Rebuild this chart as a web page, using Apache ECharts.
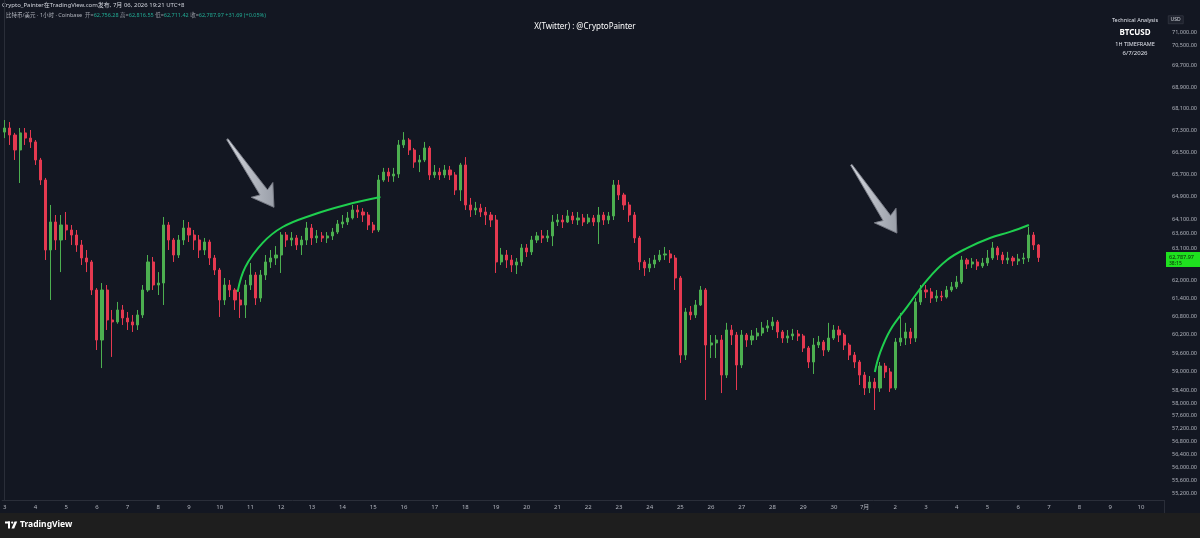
<!DOCTYPE html>
<html>
<head>
<meta charset="utf-8">
<style>
  html, body { margin: 0; padding: 0; background: #131722; }
  #chart { width: 1200px; height: 538px; }
</style>
<script src="https://cdn.jsdelivr.net/npm/echarts@6/dist/echarts.min.js"></script>
</head>
<body>
<div id="chart"></div>
<script>
// BTCUSD, 按 4 小时合并的 K 线, 从 6月3日 00:00 开始
const opens = [
  67230, 67380, 67123, 66577, 67200, 67010, 66870, 66215, 65497, 63045,
  64015, 63389, 63910, 63736, 63562, 63217, 62770, 62635, 61685, 60026,
  61685, 60685, 60620, 61017, 60750, 60620, 60520, 60851, 61685, 62635,
  61853, 61920, 63910, 63389, 62873, 63389, 63805, 63562, 63389, 63045,
  63320, 62770, 62361, 61350, 61853, 61685, 61350, 61183, 61853, 62191,
  61415, 62191, 62635, 62770, 62873, 63562, 63389, 63460, 63217, 63389,
  63805, 63460, 63530, 63460, 63530, 63665, 63945, 64015, 64155, 64435,
  64365, 64259, 63910, 63736, 65497, 65780, 65640, 65710, 66759, 66941,
  66577, 66140, 66215, 66650, 65676, 65780, 65676, 65855, 65676, 65141,
  66035, 64611, 64435, 64500, 64365, 64259, 64084, 62635, 62873, 62702,
  62531, 62635, 63115, 62980, 63389, 63530, 63460, 63530, 64015, 64084,
  64015, 64225, 64084, 64155, 64015, 64155, 64015, 64259, 64084, 64225,
  65319, 64964, 64611, 64259, 63460, 62635, 62430, 62565, 62702, 62873,
  62910, 62770, 62090, 59537, 60950, 60851, 61183, 61685, 59863, 59930,
  60026, 58891, 60355, 60190, 59213, 60190, 60026, 60160, 60255, 60420,
  60490, 60620, 60290, 60090, 60160, 60225, 60160, 59765, 59310, 59863,
  59960, 59700, 60090, 60355, 60190, 59863, 59537, 59310, 58891, 58475,
  58665, 58475, 59180, 58990, 58475, 59960, 60090, 60290, 60090, 61285,
  61685, 61620, 61415, 61480, 61450, 61685, 61790, 61955, 62702, 62565,
  62635, 62500, 62600, 62770, 63115, 62873, 62702, 62770, 62670, 62735,
  62770, 63562, 63217
]
const closes = [
  67380, 67123, 66577, 67200, 67010, 66870, 66215, 65497, 63045, 64015,
  63389, 63910, 63736, 63562, 63217, 62770, 62635, 61685, 60026, 61685,
  60685, 60620, 61017, 60750, 60620, 60520, 60851, 61685, 62635, 61853,
  61920, 63910, 63389, 62873, 63389, 63805, 63562, 63389, 63045, 63320,
  62770, 62361, 61350, 61853, 61685, 61350, 61183, 61853, 62191, 61415,
  62191, 62635, 62770, 62873, 63562, 63389, 63460, 63217, 63389, 63805,
  63460, 63530, 63460, 63530, 63665, 63945, 64015, 64155, 64435, 64365,
  64259, 63910, 63736, 65497, 65780, 65640, 65710, 66759, 66941, 66577,
  66140, 66215, 66650, 65676, 65780, 65676, 65855, 65676, 65141, 66035,
  64611, 64435, 64500, 64365, 64259, 64084, 62635, 62873, 62702, 62531,
  62635, 63115, 62980, 63389, 63530, 63460, 63530, 64015, 64084, 64015,
  64225, 64084, 64155, 64015, 64155, 64015, 64259, 64084, 64225, 65319,
  64964, 64611, 64259, 63460, 62635, 62430, 62565, 62702, 62873, 62910,
  62770, 62090, 59537, 60950, 60851, 61183, 61685, 59863, 59930, 60026,
  58891, 60355, 60190, 59213, 60190, 60026, 60160, 60255, 60420, 60490,
  60620, 60290, 60090, 60160, 60225, 60160, 59765, 59310, 59863, 59960,
  59700, 60090, 60355, 60190, 59863, 59537, 59310, 58891, 58475, 58665,
  58475, 59180, 58990, 58475, 59960, 60090, 60290, 60090, 61285, 61685,
  61620, 61415, 61480, 61450, 61685, 61790, 61955, 62702, 62565, 62635,
  62500, 62600, 62770, 63115, 62873, 62702, 62770, 62670, 62735, 62770,
  63562, 63217, 62787.97
]
const highs = [
  67674, 67600, 67200, 67380, 67380, 67306, 66941, 66290, 65570, 64611,
  64259, 64259, 64365, 63910, 63736, 63389, 63045, 62700, 61750, 61920,
  61853, 61017, 61285, 61183, 60950, 60851, 61017, 61853, 62873, 62805,
  62290, 64190, 64015, 63460, 63562, 64084, 64015, 63736, 63562, 63460,
  63400, 62873, 62430, 62090, 62022, 61750, 61620, 62022, 62600, 62290,
  62361, 62873, 63045, 63180, 63665, 63665, 63665, 63562, 63530, 64015,
  63945, 63736, 63665, 63665, 63805, 64084, 64259, 64365, 64611, 64611,
  64500, 64365, 64015, 65676, 65930, 65930, 65930, 66941, 67230, 67010,
  66650, 66396, 66870, 66720, 66035, 65930, 66035, 66000, 65780, 66110,
  66320, 64860, 64720, 64650, 64540, 64365, 64259, 63115, 63045, 62873,
  62770, 63250, 63250, 63530, 63665, 63736, 63736, 64259, 64295, 64259,
  64435, 64365, 64365, 64295, 64295, 64259, 64540, 64365, 64365, 65497,
  65497, 65040, 64720, 64365, 63530, 62702, 62770, 62873, 63045, 63150,
  63045, 62873, 62160, 61085, 61150, 61350, 61820, 61750, 60190, 60190,
  60190, 60590, 60520, 60290, 60355, 60255, 60355, 60420, 60620, 60685,
  60785, 60685, 60355, 60355, 60390, 60355, 60225, 59830, 60090, 60160,
  60026, 60590, 60520, 60490, 60255, 59930, 59635, 59375, 58990, 58860,
  58795, 59310, 59280, 59115, 60090, 60920, 60590, 60420, 61415, 61853,
  61853, 61750, 61685, 61650, 61820, 61955, 62160, 62840, 62770, 62770,
  62735, 62770, 63045, 63320, 63180, 62980, 62980, 62840, 62910, 62945,
  63840, 63665, 63250
]
const lows = [
  67010, 66759, 66215, 65390, 66759, 66650, 66035, 65319, 62702, 61350,
  63045, 62290, 63389, 63217, 62980, 62531, 62290, 61517, 59700, 59115,
  60355, 59475, 60560, 60520, 60355, 60290, 60355, 60750, 61620, 61685,
  61517, 61183, 63045, 62635, 62770, 63217, 63320, 63045, 62770, 62873,
  62531, 62191, 60785, 61183, 61450, 61017, 60750, 60750, 61685, 61183,
  61285, 62022, 62430, 62531, 62260, 63150, 63180, 63045, 62873, 63217,
  63217, 63285, 63320, 63285, 63389, 63595, 63805, 63910, 64100, 64155,
  64015, 63736, 63630, 63665, 65430, 65430, 65430, 65570, 66650, 66396,
  65930, 65780, 66140, 65497, 65570, 65497, 65570, 65497, 64964, 64750,
  64435, 64190, 64259, 64190, 63910, 63840, 62260, 62531, 62430, 62290,
  62225, 62500, 62805, 62873, 63285, 63285, 63320, 63180, 63875, 63805,
  63980, 63945, 63910, 63875, 63945, 63875, 63250, 63910, 63945, 64084,
  64787, 64435, 64015, 63285, 62361, 62160, 62290, 62430, 62635, 62702,
  62600, 61685, 59280, 59375, 60685, 60750, 61150, 58095, 59440, 59440,
  58315, 58795, 59863, 58412, 59115, 59800, 59863, 60026, 60160, 60290,
  60355, 60090, 59930, 59930, 60026, 59995, 59635, 59115, 58925, 59765,
  59505, 59635, 60026, 59960, 59700, 59375, 59115, 58571, 58253, 58315,
  57779, 58350, 58795, 58350, 58412, 59830, 59863, 59895, 59960, 61183,
  61415, 61250, 61285, 61315, 61400, 61620, 61720, 61890, 62395, 62430,
  62361, 62430, 62500, 62702, 62702, 62565, 62565, 62500, 62531, 62565,
  62635, 63045, 62635
]
// 时间轴日期标签, 每天 6 根 4H K线
const dayLabels = [
  '3', '4', '5', '6', '7', '8', '9', '10', '11', '12', '13', '14', '15', '16',
  '17', '18', '19', '20', '21', '22', '23', '24', '25', '26', '27', '28', '29', '30',
  '7月', '2', '3', '4', '5', '6', '7', '8', '9', '10'
]
// 右侧价格刻度
const priceTicks = [
  71000, 70500, 69700, 68900, 68100, 67300, 66500, 65700, 64900, 64100, 63600, 63100,
  62000, 61400, 60800, 60200, 59600, 59000, 58400, 58000, 57600, 57200, 56800,
  56400, 56000, 55600, 55200
]
const lastPrice = 62787.97
const countdown = '38:15'
// 手绘的两条绿色弧线 [K线序号, 价格]
const curveA = [[45.5, 61620], [47.0, 62460], [50.4, 63290], [54.3, 63840], [60.1, 64260], [66.6, 64610], [73.4, 64890]]
const curveB = [[170.0, 58990], [171.0, 59600], [173.0, 60350], [176.3, 61120], [180.2, 62020], [184.1, 62700],
  [188.0, 63110], [192.5, 63460], [196.4, 63670], [200.1, 63910]]
// 灰色箭头 [尾部序号, 尾部价格, 箭头序号, 箭头价格]
const arrows = [[43.5, 66970, 52.6, 64530], [165.4, 66040, 174.3, 63630]]

const UP = '#4caf50'
const DOWN = '#e53950'
const FONT = "'Noto Sans', 'Noto Sans CJK SC', sans-serif"
const SLOTS = 227 // 视图右端到 7月10日 16:00

const slotKeys = []
dayLabels.forEach((d, di) => {
  for (let h = 0; h < 24; h += 4) slotKeys.push(di + '-' + h)
})
slotKeys.length = SLOTS

const candleData = opens.map((o, i) => [o, closes[i], lows[i], highs[i]])

function fmtPrice (v) {
  return Number(v).toLocaleString('en-US', { minimumFractionDigits: 2, maximumFractionDigits: 2 })
}

function buildGraphic (priceY) {
  const els = [
    { type: 'rect', left: 0, top: 513, shape: { width: 1200, height: 25 }, style: { fill: '#1e1e1e' }, z: -1 },
    { type: 'line', shape: { x1: 1164.5, y1: 500, x2: 1164.5, y2: 513 }, style: { stroke: '#2a2e39', lineWidth: 1 } },
    {
      type: 'text', left: 2, top: 2,
      style: { text: 'Crypto_Painter在TradingView.com发布, 7月 06, 2026 19:21 UTC+8', fill: '#d1d4dc', fontSize: 6, fontFamily: FONT }
    },
    {
      type: 'text', left: 6, top: 13,
      style: {
        text: '{w|比特币/美元 · 1小时 · Coinbase}  {g|开=}{v|62,756.28} {g|高=}{v|62,816.55} {g|低=}{v|62,711.42} {g|收=}{v|62,787.97} {v|+31.69 (+0.05%)}',
        fontSize: 5.5,
        fontFamily: FONT,
        rich: {
          w: { fill: '#b2b5be', fontSize: 5.5, fontFamily: FONT },
          g: { fill: '#9598a1', fontSize: 5.5, fontFamily: FONT },
          v: { fill: '#22ab94', fontSize: 5.5, fontFamily: FONT }
        }
      }
    },
    {
      type: 'text', x: 585, y: 27,
      style: { text: 'X(Twitter) : @CryptoPainter', fill: '#ffffff', fontSize: 8, fontFamily: FONT, align: 'center', verticalAlign: 'middle' }
    },
    {
      type: 'text', x: 1135, y: 20,
      style: { text: 'Technical Analysis', fill: '#e0e3eb', fontSize: 5.5, fontFamily: FONT, align: 'center', verticalAlign: 'middle' }
    },
    {
      type: 'text', x: 1135, y: 33,
      style: { text: 'BTCUSD', fill: '#ffffff', fontSize: 8, fontWeight: 'bold', fontFamily: FONT, align: 'center', verticalAlign: 'middle' }
    },
    {
      type: 'text', x: 1135, y: 44,
      style: { text: '1H TIMEFRAME', fill: '#e0e3eb', fontSize: 5.5, fontFamily: FONT, align: 'center', verticalAlign: 'middle' }
    },
    {
      type: 'text', x: 1135, y: 53.5,
      style: { text: '6/7/2026', fill: '#e0e3eb', fontSize: 6, fontFamily: FONT, align: 'center', verticalAlign: 'middle' }
    },
    {
      type: 'rect', left: 1168, top: 15.5, shape: { width: 15, height: 8 },
      style: { fill: '#1e222d', stroke: '#434651', lineWidth: 0.5 }
    },
    {
      type: 'text', x: 1175.5, y: 19.5,
      style: { text: 'USD', fill: '#d1d4dc', fontSize: 5, fontFamily: FONT, align: 'center', verticalAlign: 'middle' }
    },
    // TradingView 标志
    { type: 'rect', left: 5, top: 521.5, shape: { width: 5, height: 2 }, style: { fill: '#ffffff' } },
    { type: 'rect', left: 8, top: 521.5, shape: { width: 2, height: 7 }, style: { fill: '#ffffff' } },
    { type: 'circle', shape: { cx: 12.2, cy: 522.6, r: 1.1 }, style: { fill: '#ffffff' } },
    { type: 'polygon', shape: { points: [[14.5, 521.5], [17.2, 521.5], [14.2, 528.5], [11.5, 528.5]] }, style: { fill: '#ffffff' } },
    {
      type: 'text', left: 20, top: 520,
      style: { text: 'TradingView', fill: '#ffffff', fontSize: 8.5, fontWeight: 'bold', fontFamily: FONT }
    }
  ]
  if (priceY != null) {
    // 最新价标签, 位置由价格轴换算
    els.push({ type: 'rect', shape: { x: 1166, y: priceY - 5.5, width: 34, height: 15 }, style: { fill: '#1fe01f' }, z: 10 })
    els.push({
      type: 'text', z: 11, x: 1169, y: priceY,
      style: { text: fmtPrice(lastPrice), fill: '#0b1f0b', fontSize: 5.5, fontFamily: FONT, verticalAlign: 'middle' }
    })
    els.push({
      type: 'text', z: 11, x: 1169, y: priceY + 6.5,
      style: { text: countdown, fill: '#0b1f0b', fontSize: 5, fontFamily: FONT, verticalAlign: 'middle' }
    })
  }
  return els
}

const chart = echarts.init(document.getElementById('chart'))

const option = {
  animation: false,
  backgroundColor: '#131722',
  textStyle: { fontFamily: FONT },
  grid: { left: 1.5, right: 35.8, top: 0, bottom: 38 },
  xAxis: [
    {
      type: 'category',
      data: slotKeys,
      boundaryGap: true,
      axisLine: { show: true, lineStyle: { color: '#2a2e39' } },
      axisTick: { show: false },
      splitLine: { show: false },
      axisLabel: {
        interval: (i) => i % 6 === 0,
        formatter: (v, i) => dayLabels[Math.floor(i / 6)],
        color: '#b2b5be',
        fontSize: 6,
        margin: 4,
        fontFamily: FONT
      }
    },
    { type: 'value', min: -0.5, max: SLOTS - 0.5, show: false }
  ],
  yAxis: {
    type: 'log',
    logBase: 10,
    min: 55013,
    max: 72249,
    position: 'right',
    axisLine: { show: true, lineStyle: { color: '#2a2e39' } },
    axisTick: { show: false },
    splitLine: { show: false },
    minorTick: { show: false },
    axisLabel: {
      customValues: priceTicks,
      formatter: (v) => fmtPrice(v),
      color: '#b2b5be',
      fontSize: 5.5,
      margin: 8,
      fontFamily: FONT
    }
  },
  series: [
    {
      type: 'candlestick',
      data: candleData,
      barWidth: 2.6,
      itemStyle: { color: UP, color0: DOWN, borderColor: UP, borderColor0: DOWN, borderWidth: 1 }
    },
    {
      type: 'line',
      xAxisIndex: 1,
      data: curveA,
      smooth: 0.4,
      symbol: 'none',
      silent: true,
      z: 5,
      lineStyle: { color: '#1fcf4f', width: 2 }
    },
    {
      type: 'line',
      xAxisIndex: 1,
      data: curveB,
      smooth: 0.4,
      symbol: 'none',
      silent: true,
      z: 5,
      lineStyle: { color: '#1fcf4f', width: 2 }
    },
    {
      type: 'custom',
      xAxisIndex: 1,
      data: arrows,
      silent: true,
      z: 6,
      encode: { x: [0, 2], y: [1, 3] },
      renderItem: function (params, api) {
        const tail = api.coord([api.value(0), api.value(1)])
        const tip = api.coord([api.value(2), api.value(3)])
        const dx = tip[0] - tail[0]
        const dy = tip[1] - tail[1]
        const len = Math.sqrt(dx * dx + dy * dy)
        const ux = dx / len
        const uy = dy / len
        const pt = (t, v) => [tail[0] + ux * t - uy * v, tail[1] + uy * t + ux * v]
        const hb = len - 21
        return {
          type: 'polygon',
          shape: {
            points: [pt(0, -0.8), pt(hb + 3, -4.5), pt(hb, -13), pt(len, 0), pt(hb, 13), pt(hb + 3, 4.5), pt(0, 0.8)]
          },
          style: {
            fill: new echarts.graphic.LinearGradient(0, 0, 1, 0, [
              { offset: 0, color: '#d4d7de' },
              { offset: 1, color: '#9a9fa9' }
            ]),
            stroke: '#7d828c',
            lineWidth: 0.6
          }
        }
      }
    }
  ],
  graphic: buildGraphic(null)
}

chart.setOption(option)
const priceY = chart.convertToPixel({ yAxisIndex: 0 }, lastPrice)
chart.setOption({ graphic: buildGraphic(priceY) })
</script>
</body>
</html>
